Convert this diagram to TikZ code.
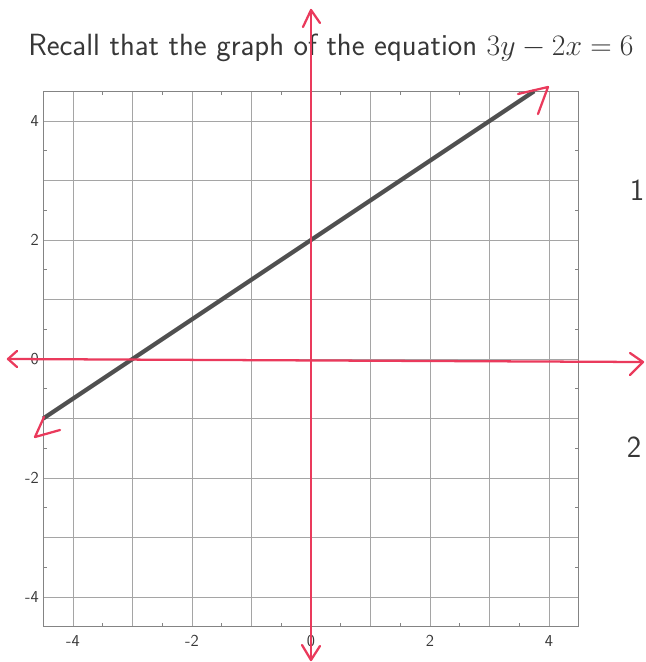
\RequirePackage{fix-cm}
\documentclass[tikz,border=0pt]{standalone}
\definecolor{pen}{RGB}{234,58,92}
\definecolor{titlegray}{RGB}{55,55,55}
\definecolor{gridgray}{RGB}{165,165,165}
\definecolor{linegray}{RGB}{80,80,80}
\tikzset{
  gridline/.style={draw=gridgray, line width=0.5pt},
  frameline/.style={draw=gridgray!80!black, line width=0.6pt},
  tickline/.style={draw=gridgray!80!black, line width=0.5pt},
  ticklabel/.style={font=\sffamily\fontsize{12.5}{14}\selectfont, text=titlegray, inner sep=1pt},
  graphline/.style={draw=linegray, line width=3.2pt},
  penline/.style={draw=pen, line width=1.7pt, line cap=round, line join=round},
  bigtext/.style={font=\sffamily\fontsize{23}{28}\selectfont, text=titlegray, inner sep=0pt}
}
\begin{document}
\begin{tikzpicture}[x=0.75pt,y=-0.75pt]
\useasboundingbox (0,0) rectangle (646,662);
\node[bigtext, anchor=base west] (title) at (28,55) {Recall that the graph of the equation {\fontsize{22.3}{27}\selectfont$3y-2x=6$}};
\node[bigtext] (one) at (637,190) {1};
\node[bigtext] (two) at (634,447) {2};
\begin{scope}[shift={(311,359)}, x=44.625pt, y=44.625pt]
  \draw[gridline, step=1] (-4.5,-4.5) grid (4.5,4.5);
  \draw[frameline] (-4.5,-4.5) rectangle (4.5,4.5);
  \foreach \t in {-3.5,-2.5,...,3.5} {
    \draw[tickline] (\t,-4.5) -- ++(0,0.07);
    \draw[tickline] (\t,4.5) -- ++(0,-0.07);
    \draw[tickline] (-4.5,\t) -- ++(0.07,0);
    \draw[tickline] (4.5,\t) -- ++(-0.07,0);
  }
  \foreach \v in {-4,-2,0,2,4} {
    \node[ticklabel, anchor=north] at (\v,-4.62) {\v};
    \node[ticklabel, anchor=east] at (-4.55,\v) {\v};
  }
  \coordinate (lo) at (-4.5,-1);
  \coordinate (hi) at (3.75,4.5);
  \draw[graphline] (lo) -- (hi);
\end{scope}
% hand-drawn red axes
\coordinate (ytop) at (311,10);
\coordinate (ybot) at (311,660);
\coordinate (xleft) at (8,359);
\coordinate (xright) at (643,362);
\draw[penline] (ybot) -- (ytop);
\draw[penline] (303,27) -- (ytop) -- (320,23);
\draw[penline] (302,645) -- (ybot) -- (320,646);
\draw[penline] (xleft) -- (xright);
\draw[penline] (17,351) -- (xleft) -- (17,367);
\draw[penline] (630,353) -- (xright) -- (630,375);
% hand-drawn arrows on the graph line
\coordinate (tipA) at (548,87);
\draw[penline] (518,94) -- (tipA) -- (538,114);
\coordinate (tipB) at (35,437);
\draw[penline] (44,417) -- (tipB) -- (60,430);
\end{tikzpicture}
\end{document}
